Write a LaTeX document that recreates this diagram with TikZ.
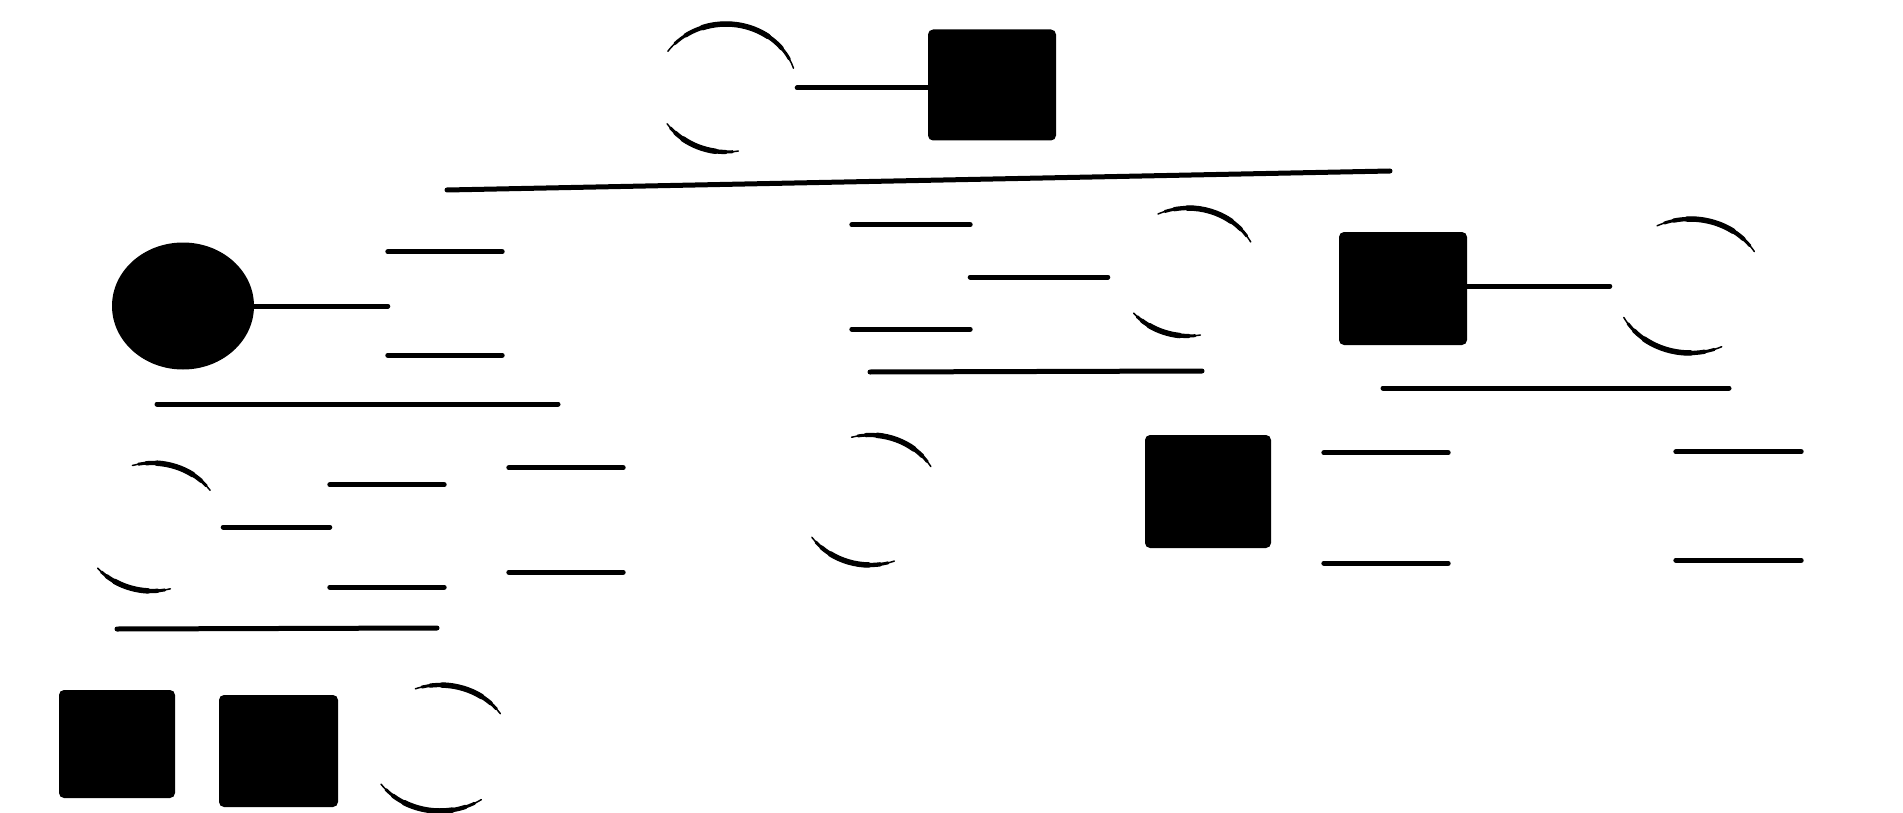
\documentclass[tikz,border=0pt]{standalone}
\usetikzlibrary{shapes.geometric}
\tikzset{
  pline/.style={line width=5pt, line cap=round},
  affm/.style={rectangle, fill=black, rounded corners=5pt, inner sep=0pt},
  unm/.style={rectangle, inner sep=0pt},
  fem/.style={ellipse, inner sep=0pt, minimum width=142pt, minimum height=128pt},
}
\newcommand{\pedseg}[7]{% node, start, end, rx, ry, trimmed fraction at each end, width
  \pgfmathsetmacro{\pedA}{#2+#6*(#3-#2)}%
  \pgfmathsetmacro{\pedB}{#3-#6*(#3-#2)}%
  \draw[line width=#7, line cap=round] ([shift={(\pedA:#4 and #5)}]#1.center) arc[start angle=\pedA, end angle=\pedB, x radius=#4, y radius=#5];
}
\newcommand{\pedarc}[5]{%
  \pedseg{#1}{#2}{#3}{#4}{#5}{0}{1.5pt}
  \pedseg{#1}{#2}{#3}{#4}{#5}{0.07}{3pt}
  \pedseg{#1}{#2}{#3}{#4}{#5}{0.16}{4.3pt}
  \pedseg{#1}{#2}{#3}{#4}{#5}{0.28}{5.5pt}
}
\newcommand{\unmale}[1]{%
  \draw[pline] (#1.north west) -- (#1.north east);
  \draw[pline] (#1.south west) -- (#1.south east);
}
\begin{document}
\begin{tikzpicture}[x=1pt,y=-1pt]
\useasboundingbox (0,0) rectangle (1903,813);
\fill[white] (0,0) rectangle (1903,813);

% Generation I
\node[fem] (I1) at (726,88) {};
\node[affm, minimum width=128pt, minimum height=111pt] (I2) at (992,85) {};
\pedarc{I1}{145}{18}{71pt}{64pt}
\pedarc{I1}{214}{280}{71pt}{64pt}
\draw[pline] (I1.east) -- (I1.east -| I2.west);

\coordinate (s1a) at (447,190);
\coordinate (s1b) at (1390,171);
\draw[pline] (s1a) -- (s1b);

% Generation II
\node[fem, fill=black, minimum height=127pt] (II1) at (183,306) {};
\node[unm, minimum width=114pt, minimum height=103pt] (II2) at (445,303.5) {};
\unmale{II2}
\draw[pline] (II1.east) -- (II1.east -| II2.west);

\node[unm, minimum width=118pt, minimum height=104pt] (II3) at (911,277) {};
\unmale{II3}
\node[fem] (II4) at (1188,272) {};
\pedarc{II4}{115}{28}{71pt}{64pt}
\pedarc{II4}{220}{280}{71pt}{64pt}
\draw[pline, shorten >=9pt] (II3.east) -- (II3.east -| II4.west);

\node[affm, minimum width=128pt, minimum height=113pt] (II5) at (1403,288.5) {};
\node[fem, minimum width=150pt, minimum height=134pt] (II6) at (1690,286) {};
\pedarc{II6}{116}{31}{75pt}{67pt}
\pedarc{II6}{208}{295}{75pt}{67pt}
\draw[pline, shorten >=5pt] (II5.east |- II6.west) -- (II6.west);

\coordinate (s2a) at (157,404);
\coordinate (s2b) at (558,404);
\draw[pline] (s2a) -- (s2b);
\coordinate (s3a) at (870,372);
\coordinate (s3b) at (1202,371);
\draw[pline] (s3a) -- (s3b);
\coordinate (s4a) at (1383,388);
\coordinate (s4b) at (1729,388);
\draw[pline] (s4a) -- (s4b);

% Generation III
\node[fem] (III1) at (152,527) {};
\pedarc{III1}{106}{35}{71pt}{64pt}
\pedarc{III1}{220}{285}{71pt}{64pt}
\node[unm, minimum width=114pt, minimum height=102pt] (III2) at (387,536) {};
\unmale{III2}
\draw[pline] (III1.east) -- (III1.east -| III2.west);
\node[unm, minimum width=114pt, minimum height=104pt] (III3) at (566,520) {};
\unmale{III3}

\node[fem, minimum height=130pt] (III4) at (870,500) {};
\pedarc{III4}{105}{31}{71pt}{65pt}
\pedarc{III4}{215}{290}{71pt}{65pt}
\node[affm, minimum width=126pt, minimum height=113pt] (III5) at (1208,491.5) {};

\node[unm, minimum width=124pt, minimum height=110pt] (III6) at (1386,508) {};
\unmale{III6}
\node[unm, minimum width=125pt, minimum height=108pt] (III7) at (1738.5,506) {};
\unmale{III7}

\coordinate (s5a) at (117,629);
\coordinate (s5b) at (437,628);
\draw[pline] (s5a) -- (s5b);

% Generation IV
\node[affm, minimum width=116pt, minimum height=108pt] (IV1) at (117,744) {};
\node[affm, minimum width=119pt, minimum height=112pt] (IV2) at (278.5,751) {};
\node[fem, minimum width=144pt, minimum height=127pt] (IV3) at (440,748) {};
\pedarc{IV3}{110}{33}{72pt}{63pt}
\pedarc{IV3}{215}{305}{72pt}{63pt}
\end{tikzpicture}
\end{document}
